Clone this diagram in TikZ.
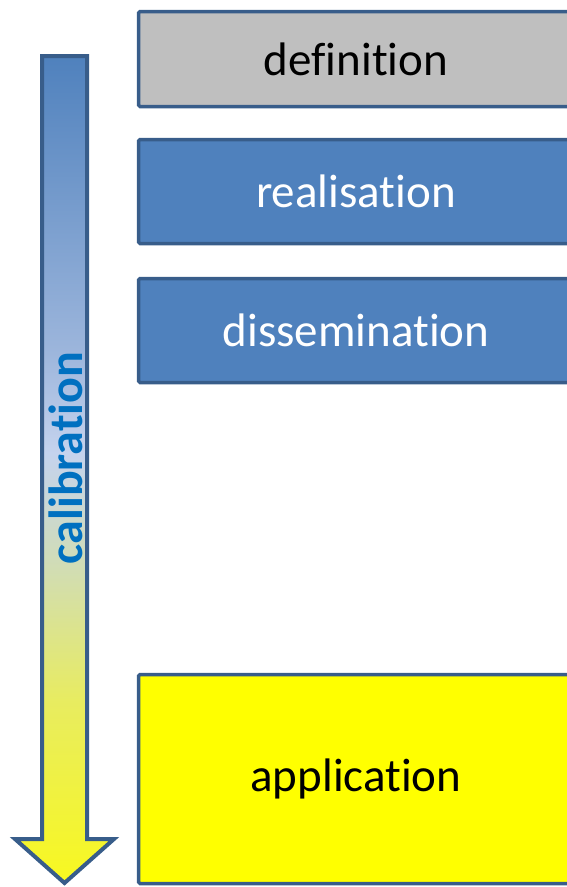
\documentclass[tikz,border=0pt]{standalone}
\usepackage{fontspec}
\setmainfont{Carlito}[Ligatures=NoCommon]
\definecolor{edgeblue}{HTML}{385D8A}
\definecolor{stageblue}{HTML}{4F81BD}
\definecolor{stagegray}{HTML}{BFBFBF}
\definecolor{stageyellow}{HTML}{FFFF00}
\definecolor{calibtext}{HTML}{0070C0}
\definecolor{arrowA}{HTML}{4F81BD}
\definecolor{arrowB}{HTML}{9DB6DC}
\definecolor{arrowC}{HTML}{C5D3EE}
\definecolor{arrowD}{HTML}{D0DCB8}
\definecolor{arrowE}{HTML}{E8EC60}
\definecolor{arrowF}{HTML}{F8F820}
\pgfdeclareverticalshading{calibshade}{100bp}{color(0bp)=(arrowF); color(25bp)=(arrowF); color(36bp)=(arrowE); color(44.5bp)=(arrowD); color(51bp)=(arrowC); color(57bp)=(arrowB); color(75bp)=(arrowA); color(100bp)=(arrowA)}
\begin{document}
\begin{tikzpicture}[x=1pt, y=-1pt,
    stage/.style={draw=edgeblue, line width=3.5pt, rounded corners=1.5pt, minimum width=435pt, inner sep=0pt, font=\fontsize{47}{56}\selectfont}]
        \useasboundingbox (0,0) rectangle (567,887);
        \clip (0,0) rectangle (567,887);
        \shadedraw[shading=calibshade, draw=edgeblue, line width=4pt, miter limit=10] (42,56) -- (87,56) -- (87,839) -- (114,839) -- (64.5,883) -- (15,839) -- (42,839) -- cycle;
        \node[rotate=90, text=calibtext, font=\bfseries\fontsize{48}{56}\selectfont] (calib) at (66,458) {calibration};
        \node[stage, fill=stagegray, minimum height=95pt] (defn) at (356,59) {definition};
        \node[stage, fill=stageblue, text=white, minimum height=104pt] (real) at (356,191.5) {realisation};
        \node[stage, fill=stageblue, text=white, minimum height=104pt] (diss) at (356,330.5) {dissemination};
        \node[stage, fill=stageyellow, minimum height=209pt] (appl) at (356,779) {application};
    \end{tikzpicture}
\end{document}
